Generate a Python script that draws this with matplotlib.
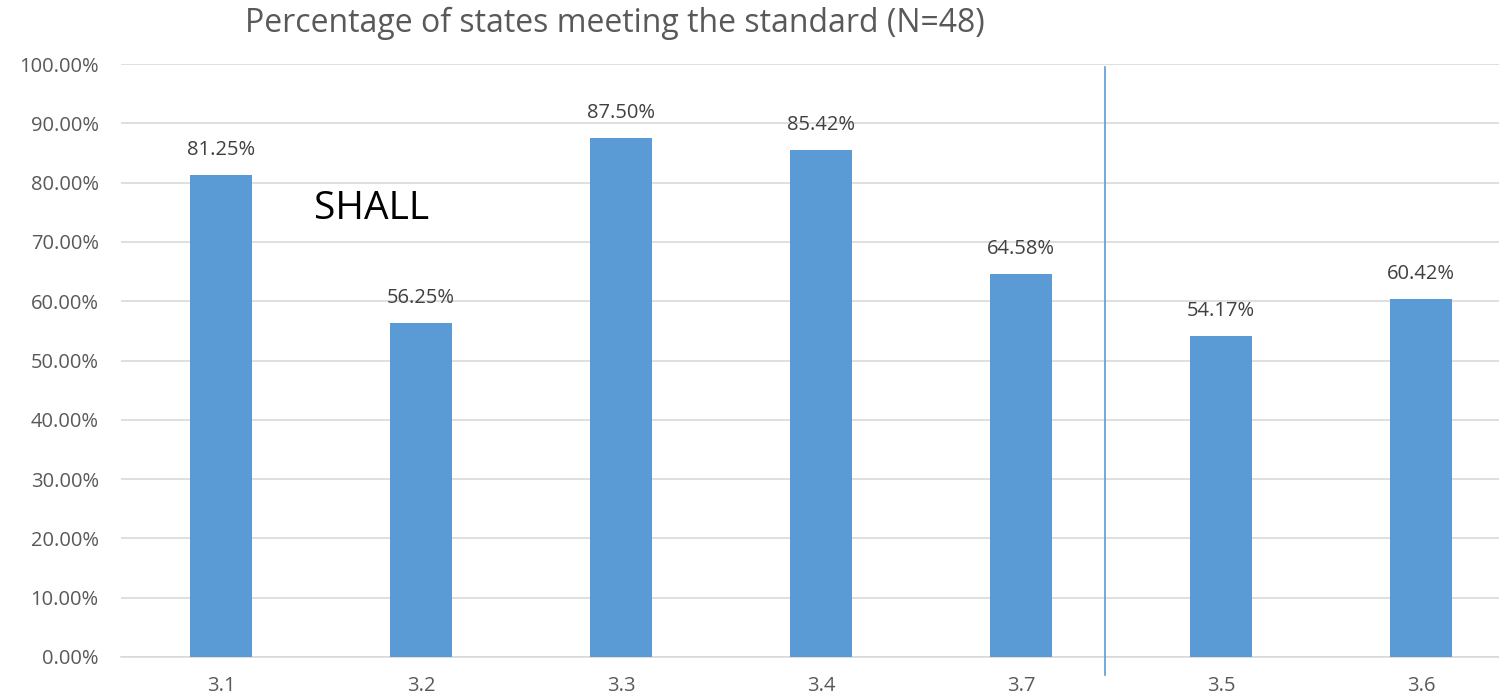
import matplotlib.pyplot as plt
import numpy as np

plt.rcParams['font.family'] = ['Open Sans', 'DejaVu Sans']

categories = ['3.1', '3.2', '3.3', '3.4', '3.7', '3.5', '3.6']
values = [81.25, 56.25, 87.50, 85.42, 64.58, 54.17, 60.42]

fig = plt.figure(figsize=(14.99, 7), dpi=100)
# plot area runs a little past the right edge of the picture
ax = fig.add_axes([121 / 1499, 1 - 657 / 700, 1400 / 1499, (657 - 64) / 700])

x = np.arange(len(categories))
ax.bar(x, values, width=0.31, color='#5B9BD5', zorder=3)
for xi, v in zip(x, values):
    ax.annotate(f'{v:.2f}%', (xi, v), xytext=(0, 18), textcoords='offset points',
                ha='center', va='center', fontsize=14.5, color='#404040')

ax.set_xlim(-0.5, len(categories) - 0.5)
ax.set_ylim(0, 100)
ax.set_yticks(np.arange(0, 101, 10))
ax.set_yticklabels([f'{t:.2f}%' for t in np.arange(0, 101, 10)])
ax.set_xticks(x)
ax.set_xticklabels(categories)
ax.tick_params(length=0, labelsize=14.5, labelcolor='#595959')
ax.tick_params(axis='x', pad=14)
ax.tick_params(axis='y', pad=16)
ax.grid(axis='y', color='#D9D9D9', linewidth=1.2, zorder=0)
for s in ['top', 'right', 'left']:
    ax.spines[s].set_visible(False)
ax.spines['bottom'].set_color('#D9D9D9')
ax.spines['bottom'].set_linewidth(1.2)

# divider between SHALL and the rest
ax.plot([4.42, 4.42], [-3.0, 99.5], color='#5B9BD5', linewidth=1.2,
        clip_on=False, zorder=4)

ax.text(0.465, 75.5, 'SHALL', fontsize=28, color='black', va='center')

fig.text(615 / 1499, 1 - 23 / 700, 'Percentage of states meeting the standard (N=48)',
         ha='center', va='center', fontsize=23, color='#595959')

fig.savefig('out.png', dpi=100)
